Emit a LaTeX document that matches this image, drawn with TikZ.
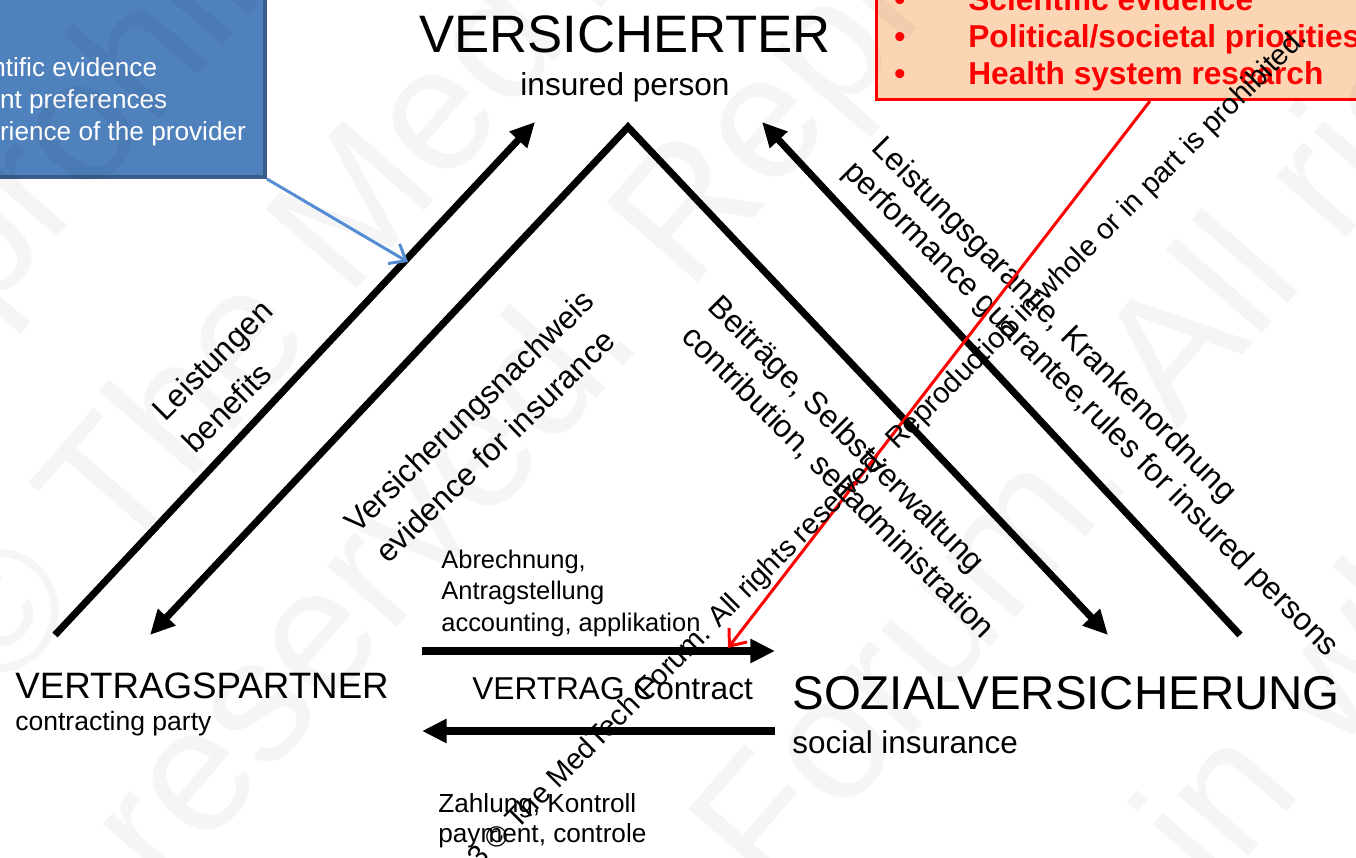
\documentclass[tikz,border=0pt]{standalone}
\usepackage{fontspec}
\setmainfont{Liberation Sans}
\usetikzlibrary{arrows.meta,positioning}

\definecolor{kastenblau}{RGB}{79,129,189}
\definecolor{randblau}{RGB}{56,93,138}
\definecolor{pfeilblau}{RGB}{84,141,212}
\definecolor{kastenrot}{RGB}{252,213,180}
\definecolor{hellrot}{RGB}{255,0,0}

\tikzset{
	pfeil/.style={line width=4pt,-{Triangle[length=14pt,width=13pt]}},
	doppelpfeil/.style={line width=4pt,line join=miter,{Triangle[length=14pt,width=13pt]}-{Triangle[length=14pt,width=13pt]}},
	hinweis/.style={line width=1.7pt,-{Straight Barb[length=8pt,width=13pt]}},
	schrift/.style={inner sep=0pt,font=\fontsize{#1}{#1}\selectfont},
	wasserzeichen/.style={inner sep=0pt,rotate=49,anchor=base west,black,opacity=0.04,font=\fontsize{100pt}{100pt}\selectfont},
}

\begin{document}
\begin{tikzpicture}[x=0.02cm,y=-0.02cm]
	\useasboundingbox (0,0) rectangle (1356,858);
	\clip (0,0) rectangle (1356,858);

	% Kaesten oben
	\node[draw=randblau,fill=kastenblau,line width=2.5pt,minimum width=8.4cm,minimum height=4.8cm,anchor=south east] (evidenz) at (267,179) {};
	\foreach \txt [count=\i] in {Scientific evidence,Patient preferences,Experience of the provider} {
		\node[schrift=14.9pt,white,anchor=base west] (ev\i) at (-60,{45+32*\i}) {\txt};
	}
	\node[draw=hellrot,fill=kastenrot,line width=1.7pt,minimum width=10cm,minimum height=4cm,anchor=south west] (prio) at (875,101) {};
	\foreach \txt [count=\i] in {Scientific evidence,Political/societal priorities,Health system research} {
		\node[schrift=18pt,hellrot,anchor=base] (bu\i) at (900,{-26+37*\i}) {\bfseries •};
		\node[schrift=18pt,hellrot,anchor=base west] (pr\i) at (968,{-26+37*\i}) {\bfseries\txt};
	}

	% Wasserzeichen
	\node[wasserzeichen] (wz1) at (-15,320) {prohibited.};
	\node[wasserzeichen] (wz2) at (0,700) {© The MedTech};
	\node[wasserzeichen] (wz3) at (165,895) {reserved. Reproduction};
	\node[wasserzeichen] (wz4) at (770,900) {Forum. All rights};
	\node[wasserzeichen] (wz5) at (1215,895) {in whole};

	% Dreieck
	\coordinate (spitze) at (628,127);
	\coordinate (lu) at (55,635);
	\coordinate (lo) at (535,122);
	\coordinate (li) at (150,635);
	\coordinate (ri) at (1108,635);
	\coordinate (ru) at (1240,635);
	\coordinate (ro) at (762,122);
	\draw[pfeil] (lu) -- (lo);
	\draw[doppelpfeil] (li) -- (spitze) -- (ri);
	\draw[pfeil] (ru) -- (ro);

	% Vertrag
	\coordinate (ha) at (422,651);
	\coordinate (hb) at (775,651);
	\coordinate (hc) at (775,731);
	\coordinate (hd) at (422,731);
	\draw[pfeil] (ha) -- (hb);
	\draw[pfeil] (hc) -- (hd);

	\node[schrift=30pt,anchor=base] (vers) at (625,53) {VERSICHERTER};
	\node[schrift=18pt,anchor=base] (versen) at (625,96) {insured person};
	\node[schrift=20.9pt,anchor=base west] (partner) at (15,698) {VERTRAGSPARTNER};
	\node[schrift=15.1pt,anchor=base west] (partneren) at (15,730) {contracting party};
	\node[schrift=27pt,anchor=base west] (sv) at (792,709) {SOZIALVERSICHERUNG};
	\node[schrift=17.9pt,anchor=base west] (sven) at (792,753) {social insurance};
	\node[schrift=18pt,anchor=base west] (vertrag) at (472,699) {VERTRAG Contract};

	\foreach \txt [count=\i] in {{Abrechnung,},Antragstellung,{accounting, applikation}} {
		\node[schrift=14.5pt,anchor=base west] (abr\i) at (441,{536.5+31.5*\i}) {\txt};
	}
	\foreach \txt [count=\i] in {{Zahlung, Kontroll},{payment, controle}} {
		\node[schrift=14.9pt,anchor=base west] (zahl\i) at (438,{783+29.5*\i}) {\txt};
	}

	% schraege Beschriftung
	\node[schrift=18pt,rotate=45,anchor=base west] (leist) at (165,423) {Leistungen};
	\node[schrift=18pt,rotate=45,anchor=base west] (benef) at (195,455) {benefits};
	\node[schrift=18pt,rotate=44,anchor=base west] (nachw) at (357,535) {Versicherungsnachweis};
	\node[schrift=18pt,rotate=44,anchor=base west] (evins) at (388,565) {evidence for insurance};
	\node[schrift=18pt,rotate=-45,anchor=base west] (beitr) at (706,308) {Beiträge, Selbstverwaltung};
	\node[schrift=18pt,rotate=-45,anchor=base west] (contr) at (680,338) {contribution, selfadministration};
	\node[schrift=18pt,rotate=-45,anchor=base west] (garant) at (870,149) {Leistungsgarantie, Krankenordnung};
	\node[schrift=18pt,rotate=-45,anchor=base west] (perf) at (842,173) {performance guarantee,rules for insured persons};

	% Hinweispfeile
	\coordinate (blauziel) at (408,262);
	\coordinate (rotstart) at (1150,101);
	\coordinate (rotziel) at (728,648);
	\draw[hinweis,pfeilblau] (evidenz.south east) -- (blauziel);
	\draw[hinweis,hellrot] (rotstart) -- (rotziel);

	% Copyright
	\node[schrift=16.5pt,rotate=45,anchor=base west] (copy) at (445,903) {2013 © The MedTech Forum. All rights reserved. Reproduction in whole or in part is prohibited.};
\end{tikzpicture}
\end{document}
